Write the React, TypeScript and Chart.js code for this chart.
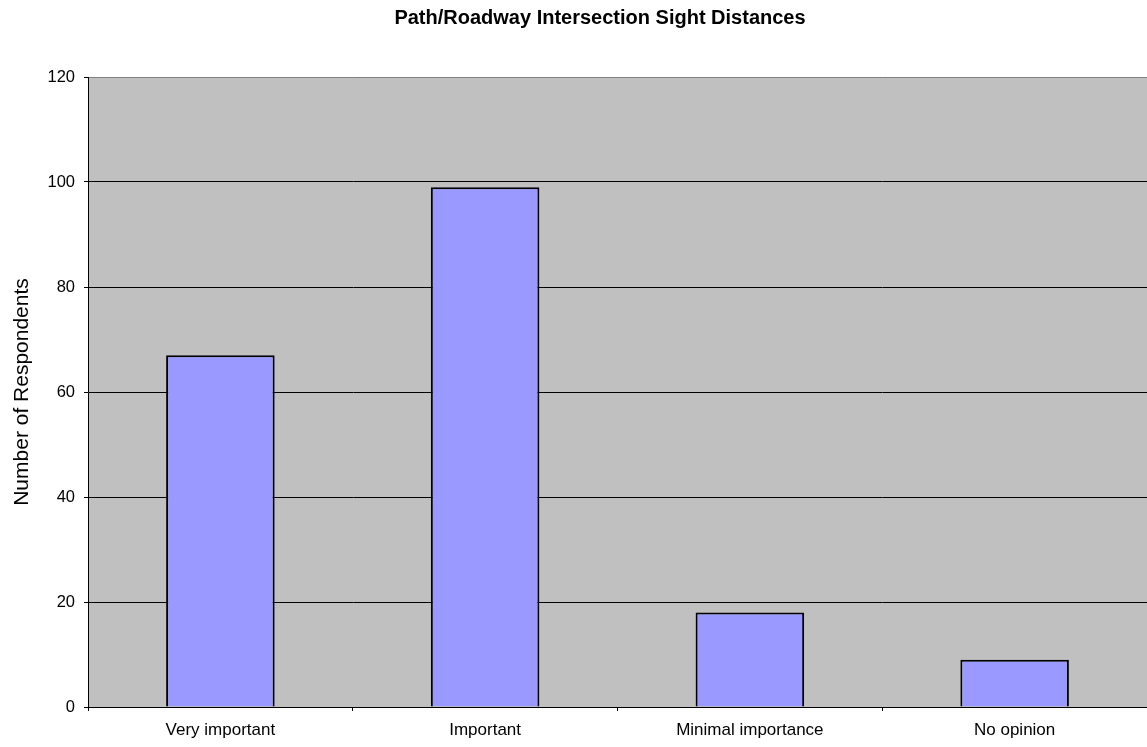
import React, { useEffect, useRef } from "react";
import { Chart, registerables } from "chart.js";

Chart.register(...registerables);

const categories = ["Very important", "Important", "Minimal importance", "No opinion"];
const respondents = [67, 99, 18, 9];
const yTicks = [0, 20, 40, 60, 80, 100, 120];
const chartTitle = "Path/Roadway Intersection Sight Distances";

const FONT = "'Liberation Sans', Arial, sans-serif";

const plotBg = {
  id: "plotBg",
  beforeDraw(chart: any) {
    const { ctx, chartArea } = chart;
    ctx.save();
    ctx.fillStyle = "#C0C0C0";
    ctx.fillRect(chartArea.left, chartArea.top, chartArea.right - chartArea.left, chartArea.bottom - chartArea.top);
    ctx.restore();
  },
  afterDraw(chart: any) {
    const { ctx } = chart;
    ctx.save();
    ctx.fillStyle = "#000";
    ctx.font = `bold 20px ${FONT}`;
    ctx.textAlign = "center";
    ctx.textBaseline = "middle";
    ctx.fillText(chartTitle, 600, 18);
    ctx.restore();
  },
};

export default function App() {
  const ref = useRef<HTMLCanvasElement>(null);
  useEffect(() => {
    if (!ref.current) return;
    const chart = new Chart(ref.current, {
      type: "bar",
      data: {
        labels: categories,
        datasets: [
          {
            data: respondents,
            backgroundColor: "#9999FF",
            borderColor: "#000000",
            borderWidth: 2,
            categoryPercentage: 1,
            barPercentage: 0.41,
          },
        ],
      },
      plugins: [plotBg],
      options: {
        animation: false,
        responsive: false,
        maintainAspectRatio: false,
        layout: { padding: { left: 0, right: 0, top: 77, bottom: 0 } },
        plugins: {
          legend: { display: false },
          tooltip: { enabled: false },
          title: { display: false },
        },
        scales: {
          x: {
            grid: {
              drawOnChartArea: false,
              drawTicks: true,
              tickLength: 4,
              color: "#000",
            },
            border: { color: "#000", width: 1 },
            ticks: {
              color: "#000",
              font: { family: FONT, size: 17 },
              padding: 9,
              maxRotation: 0,
            },
            afterFit: (s: any) => {
              s.height = 40;
            },
          },
          y: {
            min: 0,
            max: 120,
            afterBuildTicks: (s: any) => {
              s.ticks = yTicks.map((v) => ({ value: v }));
            },
            grid: {
              color: (c: any) => (c.tick && c.tick.value === 120 ? "#808080" : "#000"),
              tickColor: "#000",
              tickLength: 4,
              lineWidth: 1,
            },
            border: { color: "#000", width: 1 },
            ticks: {
              color: "#000",
              font: { family: FONT, size: 16.5 },
              padding: 9,
            },
            title: {
              display: true,
              text: "Number of Respondents",
              color: "#000",
              font: { family: FONT, size: 21 },
              padding: { top: 10, bottom: 4 },
            },
            afterFit: (s: any) => {
              s.width = 88;
            },
          },
        },
      },
    });
    return () => chart.destroy();
  }, []);
  return (
    <div style={{ position: "fixed", left: 0, top: 0, width: 1147, height: 747, background: "#fff" }}>
      <canvas ref={ref} width={1147} height={747} style={{ width: 1147, height: 747, display: "block" }} />
    </div>
  );
}
